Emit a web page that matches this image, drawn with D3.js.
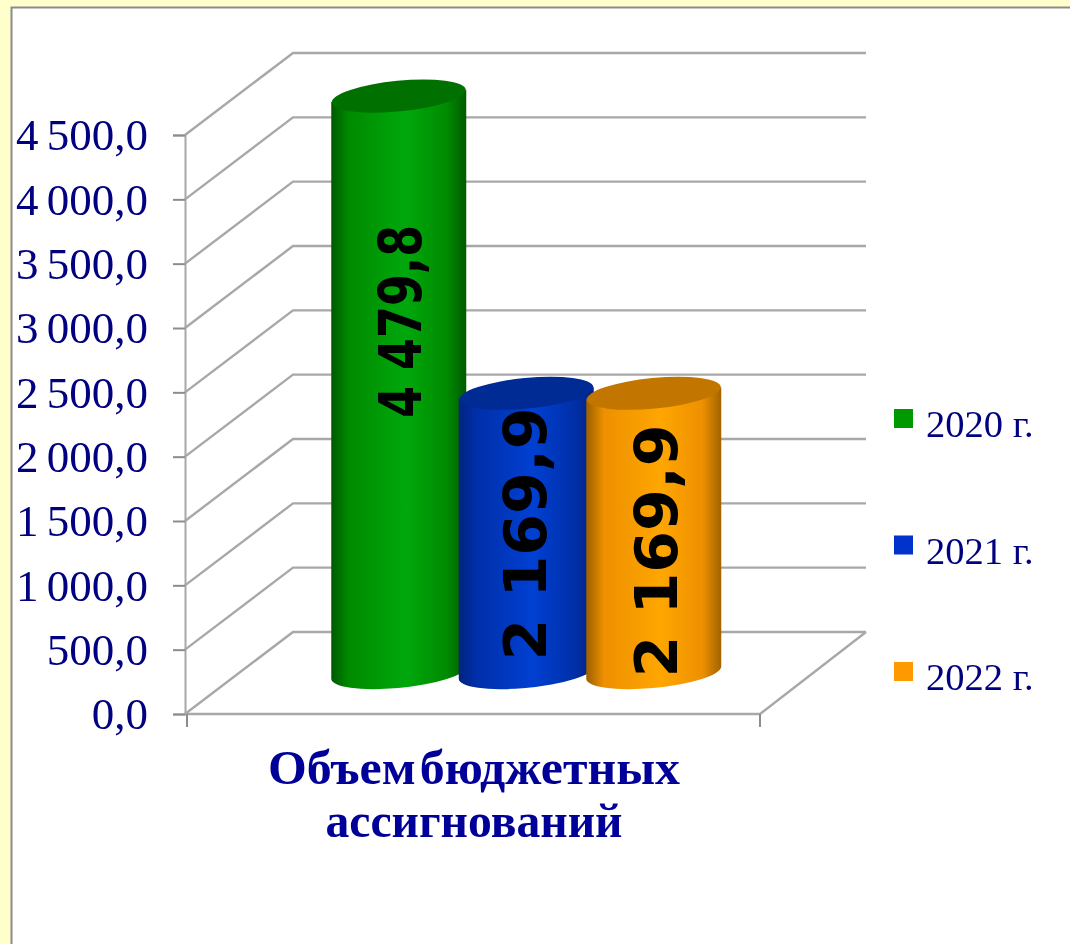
<!DOCTYPE html>
<html lang="ru">
<head>
<meta charset="utf-8">
<script src="https://cdn.jsdelivr.net/npm/d3@7"></script>
<style>
html,body{margin:0;padding:0;background:#FFFFCC;overflow:hidden}
svg{display:block;filter:blur(0.5px)}
</style>
</head>
<body>
<svg id="c" width="1070" height="944"></svg>
<script>
const categories = ["Объем бюджетных", "ассигнований"];
const seriesNames = ["2020 г.", "2021 г.", "2022 г."];
const seriesValues = [4479.8, 2169.9, 2169.9];
const valueLabels = ["4 479,8", "2 169,9", "2 169,9"];
const tickValues = [0, 500, 1000, 1500, 2000, 2500, 3000, 3500, 4000, 4500];

const legendColors = ["#009900", "#0033CC", "#FF9900"];
const bodyStops = [
  ["#005a00", "#008a00", "#00a80c", "#008a00", "#005a00"],
  ["#00237f", "#002fa8", "#0040d2", "#002fa8", "#00237f"],
  ["#9a6000", "#ee9000", "#ffa600", "#ee9000", "#a06400"]
];
const topColors = ["#007000", "#002a94", "#c27600"];
const labelShift = [-63, 1, 18];
const labelNudge = [0.5, -2, 1];
const labelStretch = [0.74, 0.97, 0.97];
const categoryWidths = [412, 297];

const svg = d3.select("#c");
const defs = svg.append("defs");
const navy = "#000080";
const serif = "'Liberation Serif', serif";

svg.append("rect").attr("x", 11.5).attr("y", 7.5).attr("width", 1070).attr("height", 950)
  .attr("fill", "#fff").attr("stroke", "#8c8c8c").attr("stroke-width", 2);

const y = d3.scaleLinear().domain([0, 4500]).range([714, 135]);
const x = d3.scaleBand().domain(seriesNames).range([335, 717.5]).padding(0);
const frontLeft = 185, frontRight = 760, depthX = 108, depthY = 82;

const grid = svg.append("g").attr("fill", "none").attr("stroke", "#a8a8a8").attr("stroke-width", 2.4);
grid.selectAll("path").data(tickValues).join("path")
  .attr("d", v => `M${frontLeft},${y(v)}L${frontLeft + depthX},${y(v) - depthY}H${frontRight + depthX - 2}`);
grid.append("path").attr("d", `M${frontLeft},${y(0)}H${frontRight}L${frontRight + depthX - 2},${y(0) - depthY}`);

const fmt = d3.formatLocale({decimal: ",", thousands: " ", grouping: [3], currency: ["", ""]}).format(",.1f");
const axis = svg.append("g").attr("transform", `translate(${frontLeft},0)`)
  .call(d3.axisLeft(y).tickValues(tickValues).tickFormat(fmt).tickSize(12).tickPadding(25));
axis.select(".domain").attr("stroke", "#a8a8a8").attr("stroke-width", 2);
axis.selectAll(".tick line").attr("stroke", "#8c8c8c").attr("stroke-width", 2);
axis.selectAll("text").attr("fill", navy).attr("font-family", serif).attr("font-size", 45)
  .attr("word-spacing", -3).attr("dy", "0.33em");

svg.append("g").attr("stroke", "#8c8c8c").attr("stroke-width", 2).selectAll("line")
  .data([frontLeft + 2, frontRight]).join("line")
  .attr("x1", d => d).attr("x2", d => d).attr("y1", y(0)).attr("y2", y(0) + 13);

// cylinders
const rx = 67.3, ry = 15.3, rot = -5.5, halfW = 67.5, tipOff = 6, baseLift = 41.5;
seriesNames.forEach((name, i) => {
  const g = defs.append("linearGradient").attr("id", "b" + i);
  [0, 0.13, 0.55, 0.86, 1].forEach((o, k) =>
    g.append("stop").attr("offset", o).attr("stop-color", bodyStops[i][k]));
});
const bars = svg.append("g").selectAll("g").data(seriesValues).join("g");
bars.each(function (v, i) {
  const cx = x(seriesNames[i]) + x.bandwidth() / 2;
  const top = y(v) - baseLift, bot = y(0) - baseLift;
  const s = d3.select(this);
  s.append("path").attr("fill", `url(#b${i})`).attr("d",
    `M${cx - halfW},${top + tipOff}L${cx - halfW},${bot + tipOff}` +
    `A${rx},${ry} ${rot} 0 0 ${cx + halfW},${bot - tipOff}` +
    `L${cx + halfW},${top - tipOff}Z`);
  s.append("ellipse").attr("rx", rx).attr("ry", ry).attr("fill", topColors[i])
    .attr("transform", `translate(${cx},${top}) rotate(${rot})`);
});
// labels on top of all cylinders
svg.append("g").selectAll("text").data(seriesValues).join("text")
  .text((d, i) => valueLabels[i])
  .attr("transform", (d, i) => {
    const cx = x(seriesNames[i]) + x.bandwidth() / 2;
    const my = (y(d) + y(0)) / 2 - baseLift + labelShift[i];
    return `translate(${cx + 22 + labelNudge[i]},${my}) rotate(-90) scale(${labelStretch[i]},0.96)`;
  })
  .attr("text-anchor", "middle").attr("font-family", "'DejaVu Sans', sans-serif")
  .attr("font-weight", 700).attr("font-size", 62).attr("fill", "#000");

// category
svg.append("g").selectAll("text").data(categories).join("text").text(d => d)
  .attr("x", 474).attr("y", (d, i) => 784 + i * 53).attr("text-anchor", "middle")
  .attr("textLength", (d, i) => categoryWidths[i]).attr("lengthAdjust", "spacingAndGlyphs")
  .attr("word-spacing", -8)
  .attr("font-family", serif).attr("font-weight", 700).attr("font-size", 48).attr("fill", "#000099");

// legend
const legendY = d3.scalePoint().domain(seriesNames).range([437, 690]);
const lg = svg.append("g").selectAll("g").data(seriesNames).join("g");
lg.append("rect").attr("x", 894).attr("y", d => legendY(d) - 28).attr("width", 19).attr("height", 19)
  .attr("fill", (d, i) => legendColors[i]);
lg.append("text").text(d => d).attr("x", 926).attr("y", d => legendY(d))
  .attr("font-family", serif).attr("font-size", 38.5).attr("fill", navy);
</script>
</body>
</html>
